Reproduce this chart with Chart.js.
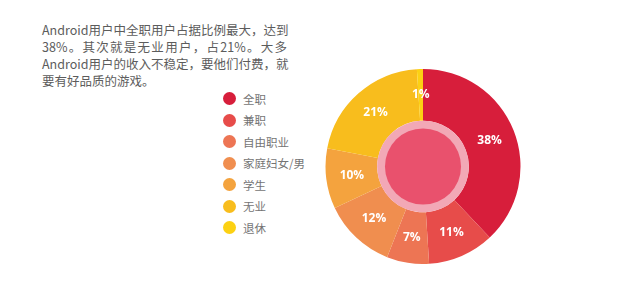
<!DOCTYPE html>
<html lang="zh">
<head>
  <meta charset="UTF-8">
  <title>Android用户职业分布</title>
  <style>
    body {
      margin: 0;
      width: 630px;
      height: 289px;
      background: #ffffff;
      font-family: 'Noto Sans CJK SC', 'Noto Sans', sans-serif;
      position: relative;
      overflow: hidden;
    }

    .intro {
      position: absolute;
      left: 42px;
      top: 21px;
      width: 245px;
      font-size: 12.5px;
      line-height: 17px;
      color: #5c5c5c;
    }

    .intro div {
      text-align: justify;
      text-align-last: justify;
      white-space: nowrap;
    }

    .intro div.last {
      text-align-last: left;
    }

    #legend {
      position: absolute;
      left: 223px;
      top: 88px;
      margin: 0;
      padding: 0;
      list-style: none;
    }

    #legend li {
      height: 21.5px;
      display: flex;
      align-items: center;
      font-size: 11.5px;
      color: #747474;
    }

    #legend li span {
      width: 13px;
      height: 13px;
      border-radius: 50%;
      margin-right: 7px;
      display: inline-block;
    }

    .chart-box {
      position: absolute;
      left: 325px;
      top: 69px;
      width: 196px;
      height: 195px;
    }
  </style>
</head>
<body>
  <div class="intro">
    <div>Android用户中全职用户占据比例最大，达到</div>
    <div>38%。其次就是无业用户，占21%。大多</div>
    <div>Android用户的收入不稳定，要他们付费，就</div>
    <div class="last">要有好品质的游戏。</div>
  </div>
  <ul id="legend"></ul>
  <div class="chart-box"><canvas id="donut"></canvas></div>

  <script src="https://cdn.jsdelivr.net/npm/chart.js"></script>
  <script>
    const categories = ["全职", "兼职", "自由职业", "家庭妇女/男", "学生", "无业", "退休"];
    const shares = [38, 11, 7, 12, 10, 21, 1];
    const sliceColors = ["#d71e3b", "#e74c4a", "#ed7554", "#f08e4f", "#f4a33e", "#f8bd1d", "#fcd113"];

    // the pink disc in the hole
    const centerDisc = {
      id: "centerDisc",
      afterDatasetsDraw(chart) {
        const arc = chart.getDatasetMeta(0).data[0];
        const ctx = chart.ctx;
        ctx.save();
        ctx.fillStyle = "#f2a8b6";
        ctx.beginPath();
        ctx.arc(arc.x, arc.y, arc.innerRadius, 0, Math.PI * 2);
        ctx.fill();
        ctx.fillStyle = "#e9516d";
        ctx.beginPath();
        ctx.arc(arc.x, arc.y, arc.innerRadius * 0.83, 0, Math.PI * 2);
        ctx.fill();
        ctx.restore();
      }
    };

    // percent labels on each slice
    const sliceLabels = {
      id: "sliceLabels",
      afterDatasetsDraw(chart) {
        const ctx = chart.ctx;
        ctx.save();
        ctx.fillStyle = "#ffffff";
        ctx.font = "bold 12px 'Open Sans', sans-serif";
        ctx.textAlign = "center";
        ctx.textBaseline = "middle";
        chart.getDatasetMeta(0).data.forEach((arc, i) => {
          const pos = arc.tooltipPosition();
          ctx.fillText(shares[i] + "%", pos.x, pos.y);
        });
        ctx.restore();
      }
    };

    const chart = new Chart(document.getElementById("donut"), {
      type: "doughnut",
      data: {
        labels: categories,
        datasets: [{
          data: shares,
          backgroundColor: sliceColors,
          borderWidth: 0
        }]
      },
      options: {
        responsive: true,
        maintainAspectRatio: false,
        animation: false,
        cutout: "47%",
        layout: { padding: 0 },
        plugins: {
          legend: { display: false },
          tooltip: { enabled: false }
        }
      },
      plugins: [centerDisc, sliceLabels]
    });

    // legend list built from the chart's own legend items
    const legendEl = document.getElementById("legend");
    chart.options.plugins.legend.labels.generateLabels(chart).forEach(item => {
      const li = document.createElement("li");
      li.innerHTML = `<span style="background:${item.fillStyle}"></span>${item.text}`;
      legendEl.appendChild(li);
    });
  </script>
</body>
</html>
